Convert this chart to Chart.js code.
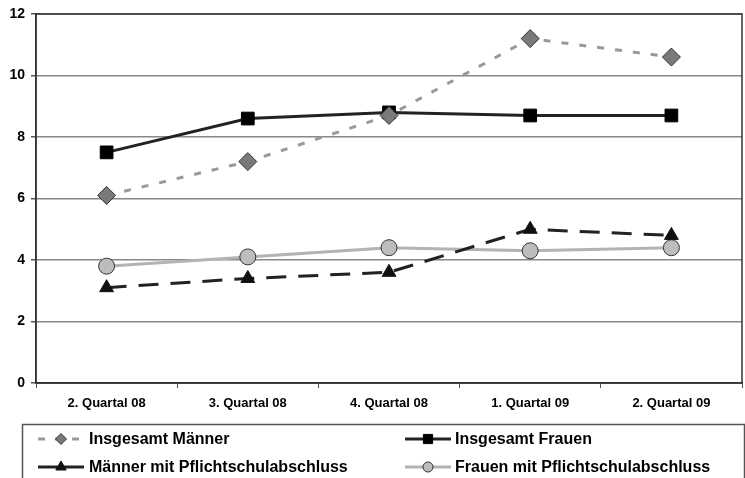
<!DOCTYPE html>
<html>
<head>
<meta charset="utf-8">
<script src="https://cdn.jsdelivr.net/npm/chart.js@4"></script>
<style>
  html, body { margin: 0; padding: 0; background: #fff; overflow: hidden; }
  canvas { display: block; }
</style>
</head>
<body>
<canvas id="myChart" width="745" height="478"></canvas>
<script>
const ctx = document.getElementById('myChart').getContext('2d');

const quarters = ['2. Quartal 08', '3. Quartal 08', '4. Quartal 08', '1. Quartal 09', '2. Quartal 09'];
const yTicks = [0, 2, 4, 6, 8, 10, 12];

const maennerGesamt = [6.1, 7.2, 8.7, 11.2, 10.6];
const frauenGesamt = [7.5, 8.6, 8.8, 8.7, 8.7];
const maennerPflicht = [3.1, 3.4, 3.6, 5.0, 4.8];
const frauenPflicht = [3.8, 4.1, 4.4, 4.3, 4.4];

// frame round the plot + legend box drawn by hand
const framePlugin = {
    id: 'frame',
    beforeDatasetsDraw(chart) {
        const { ctx, chartArea: a } = chart;
        ctx.save();
        ctx.strokeStyle = '#333';
        ctx.lineWidth = 1.5;
        ctx.strokeRect(a.left, a.top, a.right - a.left, a.bottom - a.top);
        ctx.restore();
    },
    afterDraw(chart) {
        const c = chart.ctx;
        c.save();
        c.strokeStyle = '#555';
        c.lineWidth = 1.5;
        c.strokeRect(22.5, 424.5, 722, 60);
        const slots = [
            { x: 38, y: 439, tx: 89 }, { x: 405, y: 439, tx: 455 },
            { x: 38, y: 467, tx: 89 }, { x: 405, y: 467, tx: 455 }
        ];
        chart.data.datasets.forEach((ds, k) => {
            const s = slots[k];
            c.beginPath();
            c.strokeStyle = ds.borderColor;
            c.lineWidth = ds.borderWidth;
            c.setLineDash(ds.legendDash || []);
            c.moveTo(s.x, s.y);
            c.lineTo(s.x + 46, s.y);
            c.stroke();
            c.setLineDash([]);
            c.fillStyle = ds.pointBackgroundColor;
            c.strokeStyle = ds.pointBorderColor;
            c.lineWidth = 1;
            Chart.helpers.drawPoint(c, { pointStyle: ds.pointStyle, rotation: 0, radius: ds.legendRadius, borderWidth: 1 }, s.x + 23, s.y);
            c.fillStyle = '#000';
            c.font = 'bold 16px "Liberation Sans", Arial, sans-serif';
            c.textBaseline = 'middle';
            c.fillText(ds.label, s.tx, s.y + 1);
        });
        c.restore();
    }
};

const myChart = new Chart(ctx, {
    type: 'line',
    data: {
        labels: quarters,
        datasets: [
            {
                label: 'Insgesamt Männer',
                data: maennerGesamt,
                borderColor: '#999999',
                borderWidth: 3,
                borderDash: [7, 11],
                legendDash: [7, 10],
                pointStyle: 'rectRot',
                pointRadius: 9,
                legendRadius: 5.5,
                pointBackgroundColor: '#7a7a7a',
                pointBorderColor: '#333',
                pointBorderWidth: 1
            },
            {
                label: 'Insgesamt Frauen',
                data: frauenGesamt,
                borderColor: '#222222',
                borderWidth: 3,
                pointStyle: 'rect',
                pointRadius: 9,
                legendRadius: 6.5,
                pointBackgroundColor: '#000',
                pointBorderColor: '#000',
                pointBorderWidth: 1
            },
            {
                label: 'Männer mit Pflichtschulabschluss',
                data: maennerPflicht,
                borderColor: '#222222',
                borderWidth: 3,
                borderDash: [20, 12],
                legendDash: [20, 6],
                pointStyle: 'triangle',
                pointRadius: 8,
                legendRadius: 6,
                pointBackgroundColor: '#111',
                pointBorderColor: '#111',
                pointBorderWidth: 1
            },
            {
                label: 'Frauen mit Pflichtschulabschluss',
                data: frauenPflicht,
                borderColor: '#b3b3b3',
                borderWidth: 3,
                pointStyle: 'circle',
                pointRadius: 8,
                legendRadius: 5,
                pointBackgroundColor: '#bdbdbd',
                pointBorderColor: '#333',
                pointBorderWidth: 1
            }
        ]
    },
    options: {
        responsive: false,
        animation: false,
        layout: { autoPadding: false, padding: { top: 14, right: 3, left: 0, bottom: 0 } },
        plugins: {
            legend: { display: false },
            tooltip: { enabled: false }
        },
        scales: {
            x: {
                offset: true,
                afterFit(scale) {
                    scale.height = 95;
                    scale.paddingLeft = 0;
                    scale.paddingRight = 0;
                },
                grid: {
                    offset: true,
                    drawOnChartArea: false,
                    drawTicks: true,
                    tickLength: 5,
                    color: '#555'
                },
                border: { color: '#333', width: 1.5 },
                ticks: {
                    padding: 8,
                    maxRotation: 0,
                    font: { family: '"Liberation Sans", Arial, sans-serif', size: 13, weight: 'bold' },
                    color: '#000'
                }
            },
            y: {
                min: 0,
                max: 12,
                afterFit(scale) {
                    scale.width = 36;
                    scale.paddingTop = 0;
                    scale.paddingBottom = 0;
                },
                afterBuildTicks(scale) { scale.ticks = yTicks.map(v => ({ value: v })); },
                grid: {
                    color: '#888',
                    lineWidth: 1.5,
                    tickLength: 5,
                    tickColor: '#555'
                },
                border: { color: '#333', width: 1.5 },
                ticks: {
                    padding: 6,
                    font: { family: '"Liberation Sans", Arial, sans-serif', size: 14, weight: 'bold' },
                    color: '#000'
                }
            }
        }
    },
    plugins: [framePlugin]
});
</script>
</body>
</html>
